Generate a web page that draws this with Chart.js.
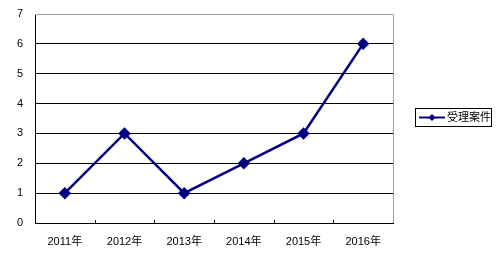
<!DOCTYPE html>
<html>
<head>
<meta charset="utf-8">
<script src="https://cdn.jsdelivr.net/npm/chart.js@4"></script>
<style>
  html, body { margin: 0; padding: 0; background: #fff; }
  #wrap { width: 500px; height: 255px; }
</style>
</head>
<body>
<div id="wrap"><canvas id="caseChart" width="500" height="255"></canvas></div>
<script>
// chart data
const years = ['2011年', '2012年', '2013年', '2014年', '2015年', '2016年'];
const cases = [1, 3, 1, 2, 3, 6];
const seriesName = '受理案件';
const yTicks = [0, 1, 2, 3, 4, 5, 6, 7];

const navy = '#000080';
const fontFamily = "'Liberation Sans', Arial, 'Noto Sans CJK SC', sans-serif";

// gray frame on top/right, inward category ticks and a boxed legend on the right
const framePlugin = {
    id: 'frame',
    afterDraw(chart) {
        const ctx = chart.ctx;
        const a = chart.chartArea;
        ctx.save();
        ctx.strokeStyle = '#a0a0a0';
        ctx.lineWidth = 1;
        ctx.beginPath();
        ctx.moveTo(a.left, a.top + 0.5);
        ctx.lineTo(a.right + 0.5, a.top + 0.5);
        ctx.lineTo(a.right + 0.5, a.bottom);
        ctx.stroke();

        // small ticks between categories, pointing up into the plot
        const xs = chart.scales.x;
        ctx.strokeStyle = '#000';
        ctx.beginPath();
        for (let i = 1; i < years.length; i++) {
            const px = Math.round((xs.getPixelForTick(i - 1) + xs.getPixelForTick(i)) / 2) + 0.5;
            ctx.moveTo(px, a.bottom - 3);
            ctx.lineTo(px, a.bottom);
        }
        ctx.stroke();

        // legend
        const ds = chart.data.datasets[0];
        const bx = 415, by = 108, bw = 76, bh = 18;
        ctx.strokeStyle = '#000';
        ctx.strokeRect(bx + 0.5, by + 0.5, bw, bh);
        const cy = by + bh / 2 + 0.5;
        ctx.strokeStyle = navy;
        ctx.lineWidth = 2;
        ctx.beginPath();
        ctx.moveTo(bx + 4, cy);
        ctx.lineTo(bx + 30, cy);
        ctx.stroke();
        ctx.fillStyle = navy;
        ctx.beginPath();
        ctx.moveTo(bx + 17, cy - 3.5);
        ctx.lineTo(bx + 20.5, cy);
        ctx.lineTo(bx + 17, cy + 3.5);
        ctx.lineTo(bx + 13.5, cy);
        ctx.closePath();
        ctx.fill();
        ctx.fillStyle = '#000';
        ctx.font = '11px ' + fontFamily;
        ctx.textBaseline = 'middle';
        ctx.fillText(ds.label, bx + 32, cy);
        ctx.restore();
    }
};

const ctx = document.getElementById('caseChart').getContext('2d');
const caseChart = new Chart(ctx, {
    type: 'line',
    data: {
        labels: years,
        datasets: [{
            label: seriesName,
            data: cases,
            borderColor: navy,
            backgroundColor: navy,
            borderWidth: 2.5,
            pointStyle: 'rectRot',
            pointRadius: 4.5,
            pointHoverRadius: 4.5,
            tension: 0
        }]
    },
    options: {
        responsive: false,
        animation: false,
        layout: { padding: { top: 14, right: 107, bottom: 0, left: 0 } },
        plugins: {
            legend: { display: false },
            tooltip: { enabled: false }
        },
        scales: {
            x: {
                offset: true,
                afterFit(scale) {
                    scale.height = 32;
                    scale.paddingLeft = 0;
                    scale.paddingRight = 0;
                },
                grid: { display: false },
                border: { display: true, color: '#000', width: 1 },
                ticks: {
                    color: '#000',
                    font: { family: fontFamily, size: 11 },
                    padding: 4,
                    maxRotation: 0
                }
            },
            y: {
                min: 0,
                max: 7,
                afterFit(scale) {
                    scale.width = 35;
                    scale.paddingTop = 0;
                    scale.paddingBottom = 0;
                },
                afterBuildTicks(scale) {
                    scale.ticks = yTicks.map(v => ({ value: v }));
                },
                grid: {
                    color: c => (c.tick.value === 7 ? '#a0a0a0' : '#000'),
                    drawTicks: false
                },
                border: { color: '#000', width: 1 },
                ticks: {
                    color: '#000',
                    font: { family: fontFamily, size: 11 },
                    padding: 12
                }
            }
        }
    },
    plugins: [framePlugin]
});
</script>
</body>
</html>
